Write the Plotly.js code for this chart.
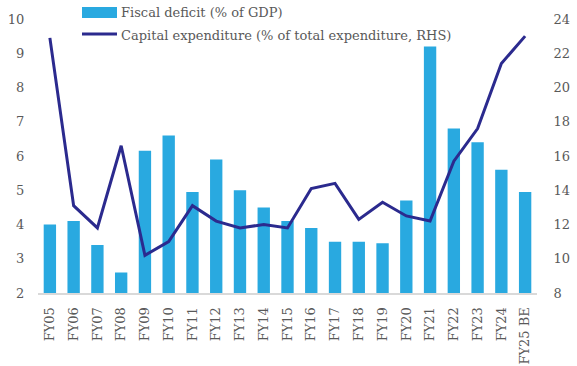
<!DOCTYPE html>
<html>
<head>
<meta charset="utf-8">
<script src="https://cdn.plot.ly/plotly-3.0.1.min.js"></script>
<style>html,body{margin:0;padding:0;background:#fff;}#chart{width:577px;height:366px;}</style>
</head>
<body>
<div id="chart"></div>
<script>
const categories = ["FY05","FY06","FY07","FY08","FY09","FY10","FY11","FY12","FY13","FY14","FY15","FY16","FY17","FY18","FY19","FY20","FY21","FY22","FY23","FY24","FY25 BE"];
const fiscalDeficit = [4.0,4.1,3.4,2.6,6.15,6.6,4.95,5.9,5.0,4.5,4.1,3.9,3.5,3.5,3.45,4.7,9.2,6.8,6.4,5.6,4.95];
const capexShare = [22.9,13.1,11.8,16.6,10.2,11.0,13.1,12.2,11.8,12.0,11.8,14.1,14.4,12.3,13.3,12.5,12.2,15.7,17.6,21.4,23.0];
const leftTicks = [2,3,4,5,6,7,8,9,10];
const rightTicks = [8,10,12,14,16,18,20,22,24];
const seriesNames = ["Fiscal deficit (% of GDP)","Capital expenditure (% of total expenditure, RHS)"];

const font = "DejaVu Serif, Georgia, serif";
const grey = "#595959";
const barColor = "#29A9E0";
const lineColor = "#2B2A8E";

const traces = [
  {type:"bar", x:categories, y:fiscalDeficit, name:seriesNames[0],
   marker:{color:barColor}, yaxis:"y"},
  {type:"scatter", mode:"lines", x:categories, y:capexShare, name:seriesNames[1],
   line:{color:lineColor, width:3}, yaxis:"y2"}
];

// legend drawn in paper coordinates (plot area: x 38..537 px, y 19..293 px)
const px2x = p => (p-38)/499;
const px2y = p => (293-p)/274;

const layout = {
  width:577, height:366,
  margin:{l:38, r:40, t:19, b:73},
  paper_bgcolor:"#fff", plot_bgcolor:"#fff",
  font:{family:font, size:13, color:grey},
  bargap:0.48,
  showlegend:false,
  xaxis:{type:"category", tickangle:-90, showgrid:false, showline:true,
         linecolor:"#d9d9d9", linewidth:2, ticks:"outside", ticklen:7, tickcolor:"rgba(0,0,0,0)",
         tickfont:{size:13, color:grey}},
  yaxis:{range:[2,10], tickvals:leftTicks, showgrid:false, zeroline:false,
         showline:false, ticks:"outside", ticklen:10, tickcolor:"rgba(0,0,0,0)",
         tickfont:{size:13, color:grey}},
  yaxis2:{range:[8,24], tickvals:rightTicks, overlaying:"y", side:"right",
          showgrid:false, zeroline:false, showline:false, ticks:"outside", ticklen:13,
          tickcolor:"rgba(0,0,0,0)", tickfont:{size:13, color:grey}},
  shapes:[
    {type:"rect", xref:"paper", yref:"paper", x0:px2x(82), x1:px2x(117), y0:px2y(18), y1:px2y(7),
     fillcolor:barColor, line:{width:0}},
    {type:"line", xref:"paper", yref:"paper", x0:px2x(82), x1:px2x(117), y0:px2y(34), y1:px2y(34),
     line:{color:lineColor, width:3}}
  ],
  annotations:[
    {xref:"paper", yref:"paper", x:px2x(119), y:px2y(13), xanchor:"left", yanchor:"middle",
     text:seriesNames[0], showarrow:false, font:{family:font, size:13, color:grey}},
    {xref:"paper", yref:"paper", x:px2x(119), y:px2y(35), xanchor:"left", yanchor:"middle",
     text:seriesNames[1], showarrow:false, font:{family:font, size:13, color:grey}}
  ]
};

Plotly.newPlot("chart", traces, layout, {displayModeBar:false, staticPlot:true});
</script>
</body>
</html>
